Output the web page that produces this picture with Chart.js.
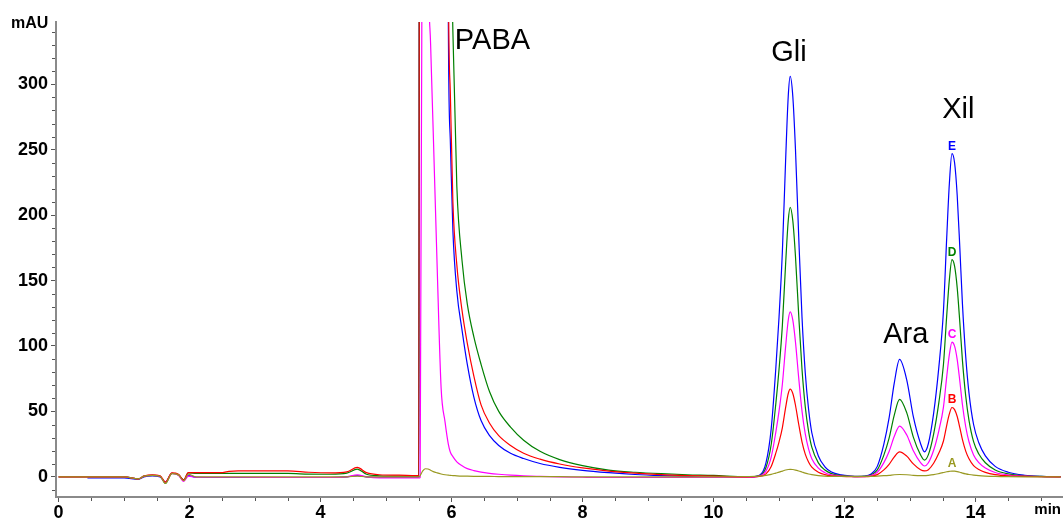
<!DOCTYPE html>
<html>
<head>
<meta charset="utf-8">
<title>Chromatogram</title>
<script src="https://cdn.jsdelivr.net/npm/chart.js@4.4.1/dist/chart.umd.min.js"></script>
<style>
  html, body { margin: 0; padding: 0; background: #fff; }
  canvas { display: block; }
</style>
</head>
<body>
<canvas id="chromChart" width="1064" height="521"></canvas>
<script>
// retention times (min), shared by all five traces
const times = [
  0, 0.44, 1.00, 1.22, 1.30, 1.43, 1.55, 1.63, 1.73, 1.83, 1.91, 1.98, 2.10, 2.50, 2.60, 2.74, 3.50, 3.82, 4.15, 4.40, 4.56, 4.70, 4.90, 5.20, 5.46,
  5.50, 5.52, 5.56, 5.60, 5.64, 5.68, 5.72, 5.78, 5.84, 5.90, 5.95, 5.98, 6.02, 6.08, 6.16, 6.24, 6.34, 6.45, 6.58, 6.72, 6.90, 7.10, 7.35, 7.65, 8.00, 8.40, 8.80, 9.20, 9.60, 10.00,
  10.50, 10.70, 10.80, 10.88, 10.95, 11.00, 11.05, 11.10, 11.14, 11.17, 11.21, 11.25, 11.30, 11.35, 11.40, 11.45, 11.50, 11.60, 11.70, 11.80, 11.95, 12.10, 12.20,
  12.30, 12.40, 12.50, 12.60, 12.68, 12.76, 12.84, 12.95, 13.05, 13.16, 13.22, 13.28, 13.36, 13.44, 13.51, 13.56, 13.60, 13.64, 13.68, 13.72, 13.76, 13.80, 13.85, 13.90, 13.97, 14.05, 14.15, 14.30, 14.50, 14.75, 15.00, 15.30
];

// mAU values
const sampleA = [
  0, 0, 0, -1.5, 0.5, 1.2, 0.5, -5, 2.5, 1.5, -3, 2.0, 0, 0, 0, 0, 0, 0, 0, 0, 0.5, 0, 0, 0, 0,
  0, 1, 4.5, 6.2, 6.0, 5.0, 4.0, 3.0, 2.2, 1.6, 1.3, 1.1, 1.0, 0.8, 0.6, 0.5, 0.4, 0.3, 0.3, 0.2, 0.2, 0.2, 0.1, 0.1, 0, 0, 0, 0, 0, 0,
  0.2, 0.5, 1.1, 1.9, 2.9, 3.6, 4.4, 5.2, 5.6, 5.7, 5.6, 5.2, 4.5, 3.7, 2.9, 2.2, 1.7, 1.0, 0.6, 0.4, 0.3, 0.3, 0.3,
  0.3, 0.4, 0.6, 0.9, 1.2, 1.6, 1.8, 1.6, 1.2, 1.0, 1.0, 1.2, 1.7, 2.5, 3.3, 3.9, 4.2, 4.4, 4.3, 4.0, 3.5, 2.9, 2.3, 1.8, 1.3, 0.9, 0.6, 0.3, 0.1, 0, 0, 0
];
const sampleB = [
  0, 0, 0, -1.5, 0.5, 1.5, 0.8, -4, 3.0, 2.0, -2.5, 3.3, 3.3, 3.3, 4.2, 4.6, 4.6, 3.5, 3.0, 3.8, 7.2, 3.2, 1.6, 1.3, 1.0,
  1.0, 1500, 1500, 1500, 1500, 1500, 1500, 1500, 1500, 1500, 390, 295, 210, 162, 127, 102, 77, 55, 41, 31.5, 24, 18, 13.5, 9.8, 6.8, 4.4, 2.8, 1.7, 1.0, 0.5,
  0, 0.3, 2.3, 8.0, 18.1, 26.8, 37.5, 52.9, 63.7, 67, 63.7, 54.9, 40.2, 26.8, 17.4, 11.4, 7.4, 3.5, 1.7, 0.8, 0.3, 0.1, 0.1,
  0.1, 0.4, 1.7, 5.3, 9.6, 15.3, 19.1, 15.8, 9.9, 5.4, 4.5, 5.5, 10.4, 18.2, 27.4, 39.4, 48.1, 53, 51.4, 46.1, 37.6, 28.4, 19.7, 13.8, 8.6, 5.6, 3.4, 1.7, 0.7, 0.3, 0.1, 0
];
const sampleC = [
  0, 0, 0, -1.5, 0.5, 1.2, 0.5, -4.5, 2.6, 1.2, -3.5, 0.5, -0.3, -0.3, -0.3, -0.3, -0.5, -0.5, -0.5, 0, 1.5, 0, -0.8, -0.8, -0.8,
  -0.8, -0.5, 600, 900, 420, 330, 263, 160, 68, 42, 25, 19, 15.5, 11.5, 8.5, 6.3, 4.8, 3.6, 2.7, 2.0, 1.3, 0.8, 0.4, 0, -0.3, -0.5, -0.5, -0.5, -0.5, -0.5,
  -0.5, 0.5, 4.4, 15.1, 34.0, 50.4, 70.6, 99.5, 119.7, 126, 119.7, 103.3, 75.6, 50.4, 32.8, 21.4, 13.9, 6.6, 3.2, 1.5, 0.6, 0.3, 0.1,
  0.2, 0.9, 3.5, 10.9, 19.4, 31.0, 38.8, 32.0, 19.9, 10.9, 8.3, 10.8, 20.3, 35.4, 53.3, 76.6, 93.4, 103, 99.9, 89.6, 73.1, 55.1, 38.3, 26.8, 16.7, 10.8, 6.7, 3.3, 1.4, 0.5, 0.2, 0
];
const sampleD = [
  0, 0, 0, -1.5, 0.5, 1.2, 0.5, -5, 2.6, 1.5, -2.5, 3.0, 2.6, 2.6, 2.6, 2.6, 2.6, 2.1, 2.0, 2.8, 5.9, 2.0, 0.8, 0.5, 0.5,
  0.5, 1500, 1500, 1500, 1500, 1500, 1500, 1500, 1500, 1500, 600, 450, 340, 222, 165, 132, 107, 86, 65, 50, 38, 28, 19.5, 13.2, 8.6, 5.2, 3.5, 2.4, 1.6, 1.1,
  0, 0.8, 7.2, 24.7, 55.6, 82.4, 115.4, 162.7, 195.7, 206, 195.7, 168.9, 123.6, 82.4, 53.6, 35.0, 22.7, 10.7, 5.2, 2.5, 1.0, 0.4, 0.2,
  0.3, 1.3, 5.3, 16.6, 29.6, 47.4, 59.2, 48.9, 30.4, 16.8, 12.8, 17.0, 32.7, 56.9, 85.9, 123.4, 150.5, 166, 161, 144.4, 117.9, 88.8, 61.8, 43.2, 26.9, 17.4, 10.8, 5.3, 2.3, 0.8, 0.3, 0
];
const sampleE = [
  null, -0.8, -0.8, -2, 0, 0.8, 0, -4, 2.6, 1.5, -2.5, 1.0, -0.3, -0.5, -0.5, -0.5, -0.5, -0.5, -0.5, 0, 1.0, 0, -0.3, -0.3, -0.3,
  0, 1500, 1500, 1500, 1500, 1500, 1500, 1500, 1500, 1500, 350, 258, 188, 142, 112, 86, 61, 43, 31.5, 24, 18, 14, 10.2, 7.3, 5.0, 3.2, 1.8, 0.9, 0.3, -0.3,
  -0.3, 1.2, 10.7, 36.7, 82.6, 122.4, 171.4, 241.7, 290.7, 306, 290.7, 250.9, 183.6, 122.4, 79.6, 52.0, 33.7, 15.9, 7.7, 3.7, 1.5, 0.6, 0.3,
  0.5, 2, 8, 25, 45, 72, 89.7, 74, 46, 25.5, 19.1, 25.5, 48.5, 84, 127, 183, 224, 247, 240, 215, 175, 132, 92, 64, 40, 26, 16, 8, 3.5, 1.2, 0.4, 0.2
];

const xTicks = [0, 2, 4, 6, 8, 10, 12, 14];
const yTicks = [0, 50, 100, 150, 200, 250, 300];

// peak names, [label, time, mAU] of the text's left/baseline corner
const peakNames = [['PABA', 6.05, 327], ['Gli', 10.88, 318], ['Ara', 12.59, 102], ['Xil', 13.49, 274]];

const FONT = "'Liberation Sans', Arial, sans-serif";
const traces = [
  { name: 'A', values: sampleA, color: '#999922' },
  { name: 'B', values: sampleB, color: '#ff0000' },
  { name: 'C', values: sampleC, color: '#ff00ff' },
  { name: 'D', values: sampleD, color: '#008000' },
  { name: 'E', values: sampleE, color: '#0000ff' }
];

// minor ticks, axis titles and peak labels
const decorations = {
    id: 'decorations',
    afterDraw(chart) {
        const ctx = chart.ctx;
        const x = chart.scales.x;
        const y = chart.scales.y;
        ctx.save();
        ctx.strokeStyle = '#555';
        ctx.lineWidth = 1;
        for (let v = -10; v <= 340; v += 10) {
            if (v % 50 === 0) continue;
            const py = Math.round(y.getPixelForValue(v)) + 0.5;
            ctx.beginPath();
            ctx.moveTo(x.left - 4, py);
            ctx.lineTo(x.left - 1, py);
            ctx.stroke();
        }
        for (let v = 0.5; v <= 15.2; v += 0.5) {
            if (v % 2 === 0) continue;
            const px = Math.round(x.getPixelForValue(v)) + 0.5;
            ctx.beginPath();
            ctx.moveTo(px, y.bottom + 1);
            ctx.lineTo(px, y.bottom + 4);
            ctx.stroke();
        }

        ctx.fillStyle = '#000';
        ctx.font = 'bold 16px ' + FONT;
        ctx.textAlign = 'left';
        ctx.textBaseline = 'alphabetic';
        ctx.fillText('mAU', 11, 28);
        ctx.font = 'bold 15px ' + FONT;
        ctx.textAlign = 'right';
        ctx.fillText('min', 1061, 514);

        ctx.font = '29px ' + FONT;
        ctx.textAlign = 'left';
        peakNames.forEach(([label, t, v]) => {
            ctx.fillText(label, x.getPixelForValue(t), y.getPixelForValue(v));
        });

        // trace letters above the Xil apex
        ctx.font = 'bold 12px ' + FONT;
        ctx.textAlign = 'center';
        const apexIndex = times.indexOf(13.64);
        traces.forEach(tr => {
            ctx.fillStyle = tr.color;
            const py = y.getPixelForValue(tr.values[apexIndex]) - 4;
            ctx.fillText(tr.name, x.getPixelForValue(13.64), py);
        });
        ctx.restore();
    }
};

const ctx = document.getElementById('chromChart').getContext('2d');
new Chart(ctx, {
    type: 'line',
    data: {
        datasets: traces.map(tr => ({
            label: tr.name,
            data: times.map((t, i) => ({ x: t, y: tr.values[i] })),
            borderColor: tr.color,
            borderWidth: 1.2,
            pointRadius: 0,
            fill: false,
            cubicInterpolationMode: 'monotone',
            spanGaps: false
        }))
    },
    options: {
        responsive: false,
        animation: false,
        devicePixelRatio: 1,
        layout: { padding: { top: 22, right: 2, left: 0, bottom: 0 } },
        plugins: {
            legend: { display: false },
            tooltip: { enabled: false }
        },
        scales: {
            x: {
                type: 'linear',
                min: -0.04,
                max: 15.32,
                afterBuildTicks: scale => { scale.ticks = xTicks.map(v => ({ value: v })); },
                afterFit: scale => { scale.height = 24; },
                border: { color: '#8a8a8a', width: 2 },
                grid: { drawOnChartArea: false, tickLength: 5, tickColor: '#555', tickWidth: 1 },
                ticks: {
                    color: '#000',
                    padding: 0,
                    maxRotation: 0,
                    autoSkip: false,
                    font: { family: FONT, size: 18, weight: 'bold' }
                }
            },
            y: {
                type: 'linear',
                min: -15.4,
                max: 347.6,
                afterBuildTicks: scale => { scale.ticks = yTicks.map(v => ({ value: v })); },
                afterFit: scale => { scale.width = 56; },
                border: { color: '#8a8a8a', width: 2 },
                grid: { drawOnChartArea: false, tickLength: 5, tickColor: '#555', tickWidth: 1 },
                ticks: {
                    color: '#000',
                    padding: 3,
                    autoSkip: false,
                    font: { family: FONT, size: 18, weight: 'bold' }
                }
            }
        }
    },
    plugins: [decorations]
});
</script>
</body>
</html>
